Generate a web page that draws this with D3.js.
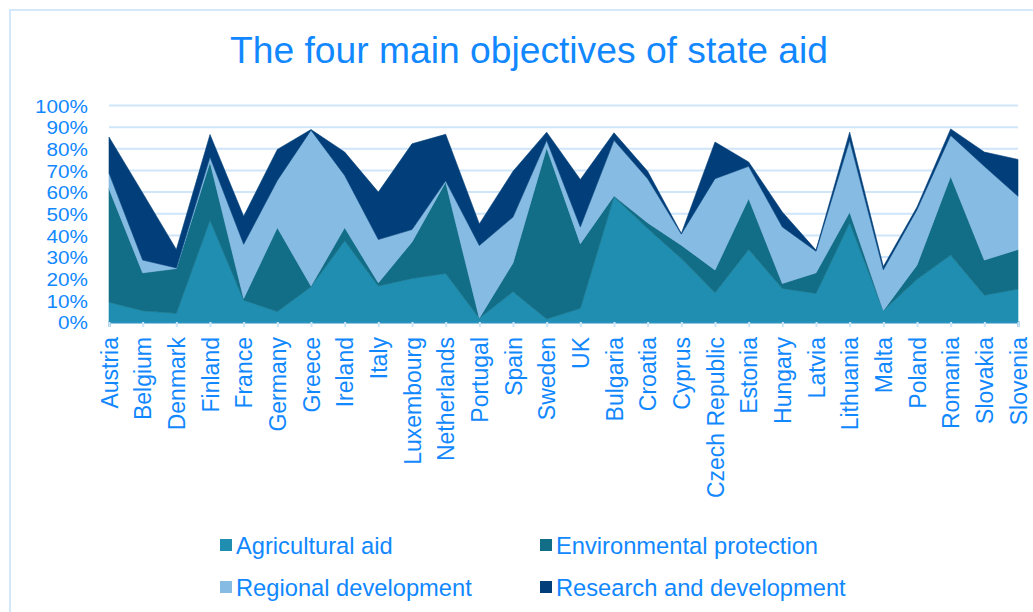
<!DOCTYPE html>
<html>
<head>
<meta charset="utf-8">
<script src="https://cdn.jsdelivr.net/npm/d3@7"></script>
<style>
  html, body { margin: 0; padding: 0; background: #ffffff; }
  svg { display: block; }
  text { font-family: "Liberation Sans", Arial, sans-serif; }
</style>
</head>
<body>
<svg id="chart" width="1033" height="612"></svg>
<script>
// Shares of state aid by objective (% of total), per member state
const countries = ["Austria", "Belgium", "Denmark", "Finland", "France", "Germany", "Greece",
  "Ireland", "Italy", "Luxembourg", "Netherlands", "Portugal", "Spain", "Sweden", "UK",
  "Bulgaria", "Croatia", "Cyprus", "Czech Republic", "Estonia", "Hungary", "Latvia",
  "Lithuania", "Malta", "Poland", "Romania", "Slovakia", "Slovenia"];

const agricultural = [9.1, 5.2, 4.0, 47.0, 10.1, 4.8, 16.3, 37.5, 16.6, 20.1, 22.4, 1.7, 14.0, 1.4,
  6.3, 57.8, 43.2, 29.3, 13.5, 33.5, 15.5, 13.2, 45.8, 5.2, 19.7, 30.9, 12.4, 15.2];
const environmental = [52.5, 17.5, 20.7, 26.9, 0.8, 38.8, 0.3, 6.1, 1.5, 16.9, 42.3, 0.1, 13.3, 79.1,
  29.9, 0.5, 2.6, 6.2, 10.5, 23.5, 2.3, 9.5, 5.0, 0.1, 6.6, 36.4, 16.2, 18.3];
const regional = [7.2, 5.9, 0.3, 2.3, 25.0, 21.8, 72.0, 24.1, 20.0, 5.7, 0.5, 33.5, 21.2, 3.4,
  7.7, 25.6, 20.4, 5.1, 42.2, 14.9, 26.1, 10.0, 33.1, 18.8, 25.6, 18.9, 43.3, 24.6];
const research = [16.6, 31.0, 8.5, 10.4, 12.9, 14.3, 0.3, 10.8, 21.9, 39.6, 21.5, 10.0, 21.1, 3.8,
  21.9, 3.5, 3.4, 0.3, 16.9, 2.0, 6.9, 0.5, 3.8, 1.5, 1.2, 3.0, 6.6, 17.0];

const seriesNames = ["Agricultural aid", "Environmental protection", "Regional development", "Research and development"];
const seriesColors = ["#208eb0", "#126e87", "#86bbe3", "#023f7a"];
const yTicks = [0, 10, 20, 30, 40, 50, 60, 70, 80, 90, 100];
const title = "The four main objectives of state aid";

const textColor = "#1188ff";
const gridColor = "#cfe5fa";

const rows = countries.map((c, i) => ({
  country: c,
  [seriesNames[0]]: agricultural[i],
  [seriesNames[1]]: environmental[i],
  [seriesNames[2]]: regional[i],
  [seriesNames[3]]: research[i]
}));

const svg = d3.select("#chart");

// outer frame
svg.append("rect")
  .attr("x", 10).attr("y", 10).attr("width", 1040).attr("height", 620)
  .attr("fill", "none").attr("stroke", "#d3e8fb").attr("stroke-width", 2);

const plot = { left: 109, right: 1018, top: 105.5, bottom: 322 };

const x = d3.scalePoint().domain(countries).range([plot.left, plot.right]).padding(0);
const y = d3.scaleLinear().domain([0, 100]).range([plot.bottom, plot.top]);

// title
svg.append("text")
  .attr("x", 529).attr("y", 63)
  .attr("text-anchor", "middle")
  .attr("fill", textColor)
  .attr("font-size", 36)
  .attr("textLength", 598)
  .attr("lengthAdjust", "spacingAndGlyphs")
  .text(title);

// horizontal gridlines
svg.append("g")
  .selectAll("line")
  .data(yTicks.filter(t => t > 0))
  .join("line")
  .attr("x1", plot.left).attr("x2", plot.right)
  .attr("y1", d => y(d)).attr("y2", d => y(d))
  .attr("stroke", gridColor).attr("stroke-width", 2);

// y axis labels
const yAxis = d3.axisLeft(y).tickValues(yTicks).tickFormat(d => d + "%").tickSize(0).tickPadding(0);
const yg = svg.append("g").attr("transform", `translate(${plot.left - 21},0)`).call(yAxis);
yg.select(".domain").remove();
yg.selectAll("text")
  .attr("fill", textColor)
  .attr("font-size", 18.5)
  .attr("font-family", "Liberation Sans, Arial, sans-serif")
  .attr("dy", "0.36em")
  .attr("transform", "scale(1.12,1)");

// stacked areas
const stack = d3.stack().keys(seriesNames);
const layers = stack(rows);
const area = d3.area()
  .x(d => x(d.data.country))
  .y0(d => y(d[0]))
  .y1(d => y(d[1]))
  .curve(d3.curveLinear);

svg.append("g")
  .selectAll("path")
  .data(layers)
  .join("path")
  .attr("d", area)
  .attr("fill", (d, i) => seriesColors[i])
  .attr("stroke", (d, i) => seriesColors[i])
  .attr("stroke-width", 0.6)
  .attr("stroke-linejoin", "round");

// x axis
const xAxis = d3.axisBottom(x).tickSize(5).tickPadding(0);
const xg = svg.append("g").attr("transform", `translate(0,${plot.bottom})`).call(xAxis);
xg.select(".domain").attr("stroke", "#2a92c0").attr("stroke-width", 2);
xg.selectAll(".tick line").attr("stroke", gridColor).attr("stroke-width", 2);
xg.selectAll(".tick text")
  .attr("fill", textColor)
  .attr("font-size", 23)
  .attr("font-family", "Liberation Sans, Arial, sans-serif")
  .attr("text-anchor", "end")
  .attr("transform", "rotate(-90)")
  .attr("x", -15)
  .attr("y", 0)
  .attr("dy", "0.36em");

// legend
const legendItems = [
  { name: seriesNames[0], color: seriesColors[0], x: 220, y: 545 },
  { name: seriesNames[1], color: seriesColors[1], x: 540, y: 545 },
  { name: seriesNames[2], color: seriesColors[2], x: 220, y: 587 },
  { name: seriesNames[3], color: seriesColors[3], x: 540, y: 587 }
];
const lg = svg.append("g").selectAll("g").data(legendItems).join("g")
  .attr("transform", d => `translate(${d.x},${d.y})`);
lg.append("rect")
  .attr("x", 0).attr("y", -6).attr("width", 12).attr("height", 12)
  .attr("fill", d => d.color);
lg.append("text")
  .attr("x", 16).attr("y", 0).attr("dy", "0.36em")
  .attr("fill", textColor)
  .attr("font-size", 23.7)
  .text(d => d.name);
</script>
</body>
</html>
